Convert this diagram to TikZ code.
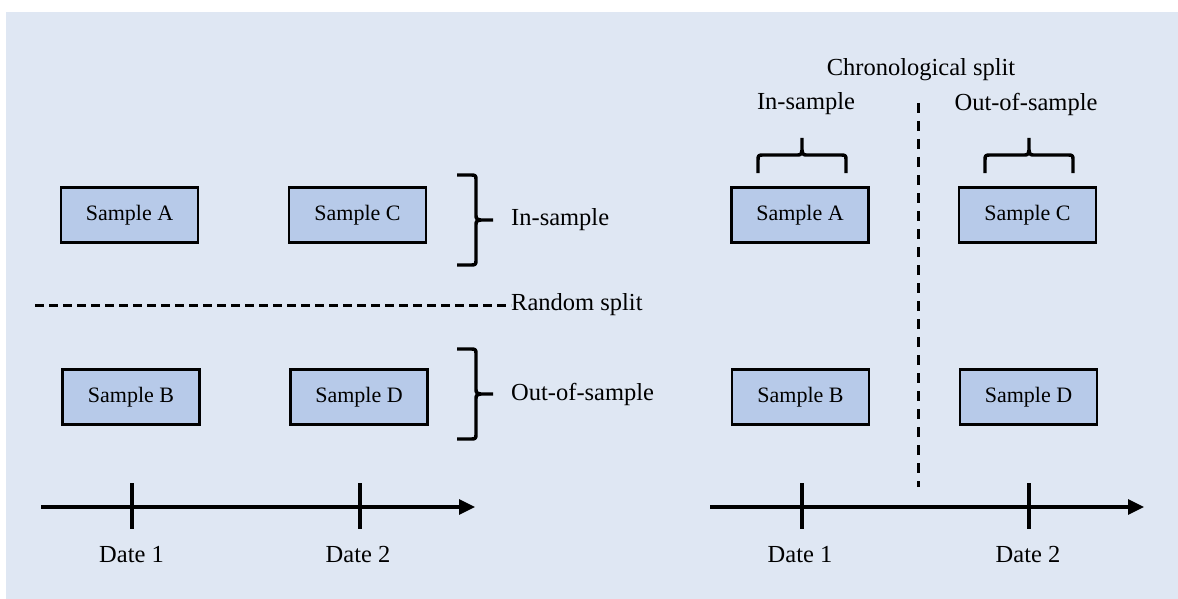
\documentclass[tikz,border=0pt]{standalone}
\usepackage{fontspec}
\setmainfont{Liberation Serif}
\usetikzlibrary{arrows.meta}
\definecolor{bgblue}{HTML}{DFE7F3}
\definecolor{boxblue}{HTML}{B7CAE9}
\begin{document}
\begin{tikzpicture}[x=1pt,y=-1pt,
  samplebox/.style={draw=black, fill=boxblue, line width=2.6pt, minimum width=137pt, minimum height=55pt, inner sep=0pt, font=\fontsize{22}{26}\selectfont},
  lbl/.style={inner sep=0pt, font=\fontsize{24.5}{28}\selectfont},
  axisline/.style={line width=3.2pt, -{Triangle[length=16pt,width=15pt]}},
  tickline/.style={line width=3.2pt},
  hsplit/.style={line width=3pt, dash pattern=on 9pt off 5pt},
  vsplit/.style={line width=3pt, dash pattern=on 10pt off 8pt},
  bracestroke/.style={line width=3.4pt, line join=round},
  rbrace/.pic={
    \draw[bracestroke] (-19,-45) -- (-6,-45) .. controls (0,-45) .. (0,-39) -- (0,-6) .. controls (0,-1) .. (5,0) -- (17,0);
    \draw[bracestroke] (5,0) .. controls (0,1) .. (0,6) -- (0,39) .. controls (0,45) .. (-6,45) -- (-19,45);
  },
  ubrace/.pic={
    \draw[bracestroke] (-44,18) -- (-44,6) .. controls (-44,0) .. (-38,0) -- (-6,0) .. controls (-1,0) .. (0,-5) -- (0,-17);
    \draw[bracestroke] (0,-5) .. controls (1,0) .. (6,0) -- (38,0) .. controls (44,0) .. (44,6) -- (44,18);
  }
]
\path[use as bounding box] (0,0) rectangle (1178,599);
\fill[white] (0,0) rectangle (1178,599);
\fill[bgblue] (6,12) rectangle (1178,599);

% ---------- left panel: random split ----------
\node[samplebox] (lA) at (129.5,215) {Sample A};
\node[samplebox] (lC) at (357.5,215) {Sample C};
\node[samplebox] (lB) at (131,397) {Sample B};
\node[samplebox] (lD) at (359,397) {Sample D};

\pic at (476,220) {rbrace};
\node[lbl, anchor=west] (lin) at (511,220) {In-sample};
\pic at (476,394) {rbrace};
\node[lbl, anchor=west] (lout) at (511,394) {Out-of-sample};

\node[lbl, anchor=west] (rs) at (511,305) {Random split};
\coordinate (rsstart) at (35,305);
\draw[hsplit] (rsstart) -- (rs.west);

\coordinate (lax0) at (41,507);
\coordinate (lax1) at (475,507);
\draw[axisline] (lax0) -- (lax1);
\coordinate (lt1) at (132,483);
\coordinate (lt2) at (360,483);
\draw[tickline] (lt1) -- ++(0,46);
\draw[tickline] (lt2) -- ++(0,46);
\node[lbl] (ld1) at (131.5,555) {Date 1};
\node[lbl] (ld2) at (358,555) {Date 2};

% ---------- right panel: chronological split ----------
\node[samplebox] (rA) at (800,215) {Sample A};
\node[samplebox] (rC) at (1027.5,215) {Sample C};
\node[samplebox] (rB) at (800.5,397) {Sample B};
\node[samplebox] (rD) at (1028.5,397) {Sample D};

\node[lbl] (chron) at (921,70) {Chronological split};
\node[lbl] (rin) at (806,104) {In-sample};
\node[lbl] (rout) at (1026,104) {Out-of-sample};

\pic at (802,155) {ubrace};
\pic at (1029,155) {ubrace};

\coordinate (vs0) at (918,103);
\coordinate (vs1) at (918,487);
\draw[vsplit] (vs0) -- (vs1);

\coordinate (rax0) at (710,507);
\coordinate (rax1) at (1144,507);
\draw[axisline] (rax0) -- (rax1);
\coordinate (rt1) at (802,483);
\coordinate (rt2) at (1029,483);
\draw[tickline] (rt1) -- ++(0,46);
\draw[tickline] (rt2) -- ++(0,46);
\node[lbl] (rd1) at (800,555) {Date 1};
\node[lbl] (rd2) at (1028,555) {Date 2};
\end{tikzpicture}
\end{document}
